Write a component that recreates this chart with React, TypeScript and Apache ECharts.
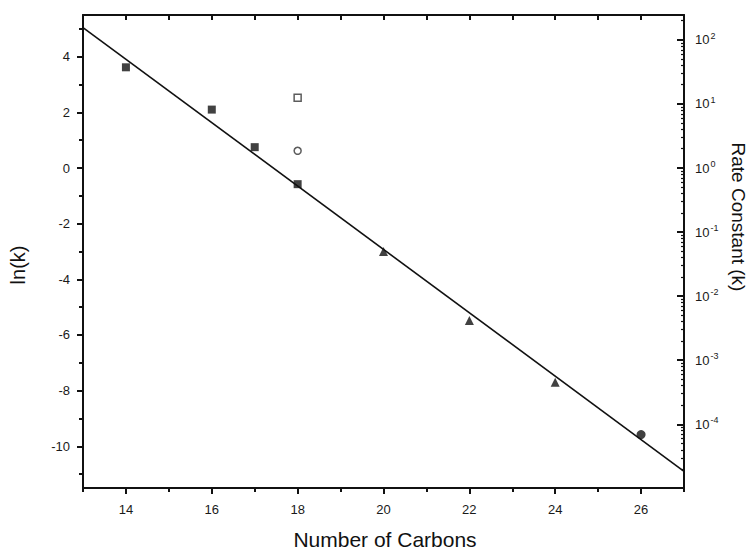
import React, { useEffect, useRef } from "react";
import * as echarts from "echarts";

// Data
const filledSquares: [number, number][] = [
  [14, 3.62],
  [16, 2.1],
  [17, 0.75],
  [18, -0.58],
];
const openSquare: [number, number][] = [[18, 2.53]];
const openCircle: [number, number][] = [[18, 0.62]];
const triangles: [number, number][] = [
  [20, -3.0],
  [22, -5.48],
  [24, -7.7],
];
const filledCircle: [number, number][] = [[26, -9.58]];
const fitLine: [number, number][] = [
  [13, 5.05],
  [27, -10.9],
];

// Axis ticks
const xMajor = [14, 16, 18, 20, 22, 24, 26];
const xMinor = [13, 15, 17, 19, 21, 23, 25, 27];
const xAll = [13, 14, 15, 16, 17, 18, 19, 20, 21, 22, 23, 24, 25, 26, 27];
const yMajor = [-10, -8, -6, -4, -2, 0, 2, 4];
const yMinor = [-11, -9, -7, -5, -3, -1, 1, 3, 5];
const decades = [-4, -3, -2, -1, 0, 1, 2];
const minorMultipliers = [2, 3, 4, 5, 6, 7, 8, 9];

const Y_MIN = -11.5;
const Y_MAX = 5.5;

export default function App() {
  const ref = useRef<HTMLDivElement>(null);
  useEffect(() => {
    if (!ref.current) return;
    const chart = echarts.init(ref.current, undefined, { renderer: "svg" });
    const ink = "#111111";
    const font = "Liberation Sans";
    const rightMajor = decades.map((n) => n * Math.LN10);
    const rightMinor: number[] = [];
    [-5, ...decades].forEach((n) => {
      minorMultipliers.forEach((m) => {
        const v = Math.log(m * Math.pow(10, n));
        if (v > Y_MIN && v < Y_MAX) rightMinor.push(v);
      });
    });
    const baseLine = { show: true, onZero: false, lineStyle: { color: ink, width: 2 } };
    const noLine = { show: false, onZero: false };
    const labelStyle = {
      color: "#1a1a1a",
      fontFamily: font,
      fontSize: 13,
    };
    const option: any = {
      animation: false,
      backgroundColor: "#ffffff",
      grid: { left: 83, right: 71, top: 15, bottom: 62 },
      xAxis: [
        {
          type: "value",
          position: "bottom",
          min: 13,
          max: 27,
          axisLine: baseLine,
          splitLine: { show: false },
          axisTick: {
            show: true,
            customValues: xMajor,
            length: 6,
            inside: false,
            lineStyle: { color: ink, width: 2 },
          },
          axisLabel: {
            customValues: xMajor,
            margin: 15,
            ...labelStyle,
          },
        },
        {
          type: "value",
          position: "bottom",
          min: 13,
          max: 27,
          axisLine: noLine,
          splitLine: { show: false },
          axisTick: {
            show: true,
            customValues: xMinor,
            length: 4,
            inside: false,
            lineStyle: { color: ink, width: 2 },
          },
          axisLabel: { show: false },
        },
        {
          type: "value",
          position: "top",
          min: 13,
          max: 27,
          axisLine: baseLine,
          splitLine: { show: false },
          axisTick: {
            show: true,
            customValues: xAll,
            length: 5,
            inside: true,
            lineStyle: { color: ink, width: 2 },
          },
          axisLabel: { show: false },
        },
      ],
      yAxis: [
        {
          type: "value",
          position: "left",
          min: Y_MIN,
          max: Y_MAX,
          axisLine: baseLine,
          splitLine: { show: false },
          axisTick: {
            show: true,
            customValues: yMajor,
            length: 6,
            inside: false,
            lineStyle: { color: ink, width: 2 },
          },
          axisLabel: {
            customValues: yMajor,
            margin: 13,
            ...labelStyle,
          },
        },
        {
          type: "value",
          position: "left",
          min: Y_MIN,
          max: Y_MAX,
          axisLine: noLine,
          splitLine: { show: false },
          axisTick: {
            show: true,
            customValues: yMinor,
            length: 4,
            inside: false,
            lineStyle: { color: ink, width: 2 },
          },
          axisLabel: { show: false },
        },
        {
          type: "value",
          position: "right",
          min: Y_MIN,
          max: Y_MAX,
          axisLine: baseLine,
          splitLine: { show: false },
          axisTick: {
            show: true,
            customValues: rightMajor,
            length: 7,
            inside: true,
            lineStyle: { color: ink, width: 2 },
          },
          axisLabel: {
            customValues: rightMajor,
            margin: 11,
            ...labelStyle,
            formatter: (v: number) => `10{s|${Math.round(v / Math.LN10)}}`,
            rich: {
              s: {
                fontSize: 9,
                fontFamily: font,
                color: "#1a1a1a",
                padding: [0, 0, 8, 1],
              },
            },
          },
        },
        {
          type: "value",
          position: "right",
          min: Y_MIN,
          max: Y_MAX,
          axisLine: noLine,
          splitLine: { show: false },
          axisTick: {
            show: true,
            customValues: rightMinor,
            length: 3,
            inside: true,
            lineStyle: { color: ink, width: 1.2 },
          },
          axisLabel: { show: false },
        },
      ],
      series: [
        {
          type: "line",
          data: fitLine,
          xAxisIndex: 0,
          yAxisIndex: 0,
          symbol: "none",
          lineStyle: { color: ink, width: 1.6 },
          z: 1,
        },
        {
          type: "scatter",
          data: filledSquares,
          symbol: "rect",
          symbolSize: 8,
          itemStyle: { color: ink },
          z: 3,
        },
        {
          type: "scatter",
          data: openSquare,
          symbol: "rect",
          symbolSize: 7,
          itemStyle: { color: "#fff", borderColor: "#333", borderWidth: 1.5 },
          z: 3,
        },
        {
          type: "scatter",
          data: openCircle,
          symbol: "circle",
          symbolSize: 7,
          itemStyle: { color: "#fff", borderColor: "#333", borderWidth: 1.5 },
          z: 3,
        },
        {
          type: "scatter",
          data: triangles,
          symbol: "triangle",
          symbolSize: 9,
          itemStyle: { color: ink },
          z: 3,
        },
        {
          type: "scatter",
          data: filledCircle,
          symbol: "circle",
          symbolSize: 9,
          itemStyle: { color: ink },
          z: 3,
        },
      ],
      graphic: [
        {
          type: "text",
          x: 385,
          y: 539,
          style: {
            text: "Number of Carbons",
            font: `21px "${font}"`,
            fill: ink,
            align: "center",
            verticalAlign: "middle",
          },
        },
        {
          type: "text",
          x: 18,
          y: 265,
          rotation: Math.PI / 2,
          style: {
            text: "ln(k)",
            font: `20px "${font}"`,
            fill: ink,
            align: "center",
            verticalAlign: "middle",
          },
        },
        {
          type: "text",
          x: 738,
          y: 217,
          rotation: -Math.PI / 2,
          style: {
            text: "Rate Constant (k)",
            font: `19px "${font}"`,
            fill: ink,
            align: "center",
            verticalAlign: "middle",
          },
        },
      ],
    };
    chart.setOption(option);
    return () => chart.dispose();
  }, []);
  return (
    <div
      ref={ref}
      style={{ position: "fixed", left: 0, top: 0, width: 755, height: 550 }}
    />
  );
}
